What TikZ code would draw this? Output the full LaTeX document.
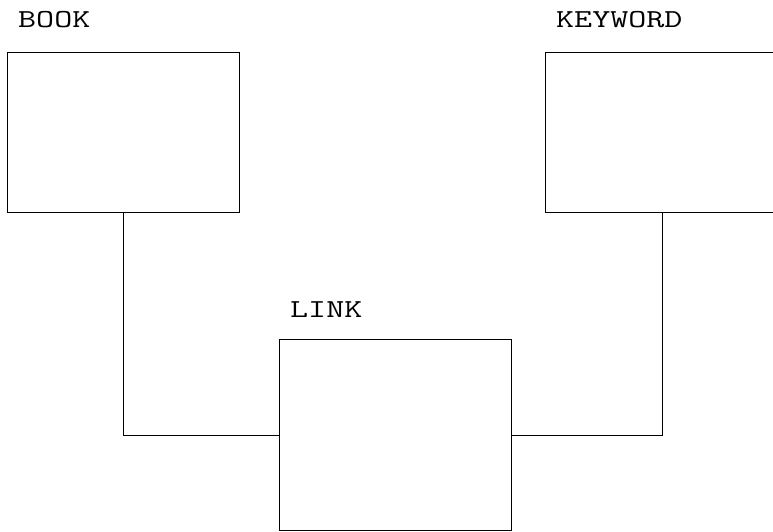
\documentclass[tikz,border=0pt]{standalone}
\begin{document}
\begin{tikzpicture}[x=1pt,y=1pt,
  box/.style={draw=black, line width=0.9pt, inner sep=0pt, rectangle},
  lbl/.style={anchor=base west, inner sep=0pt, font=\ttfamily\fontsize{35}{35}\selectfont},
  conn/.style={draw=black, line width=0.9pt}]
\clip (0,0) rectangle (773,531);
\node[box, minimum width=232pt, minimum height=160pt] (book) at (123,399) {};
\node[box, minimum width=234pt, minimum height=160pt] (kw) at (662,399) {};
\node[box, minimum width=232pt, minimum height=191pt] (link) at (395,96) {};
\node[lbl] (booklbl) at (18,503) {\scalebox{1}[0.74]{BOOK}};
\node[lbl] (kwlbl) at (556,503) {\scalebox{1}[0.74]{KEYWORD}};
\node[lbl] (linklbl) at (290,214) {\scalebox{1}[0.74]{LINK}};
\draw[conn] (book.south) |- (link.west);
\draw[conn] (kw.south) |- (link.east);
\end{tikzpicture}
\end{document}
